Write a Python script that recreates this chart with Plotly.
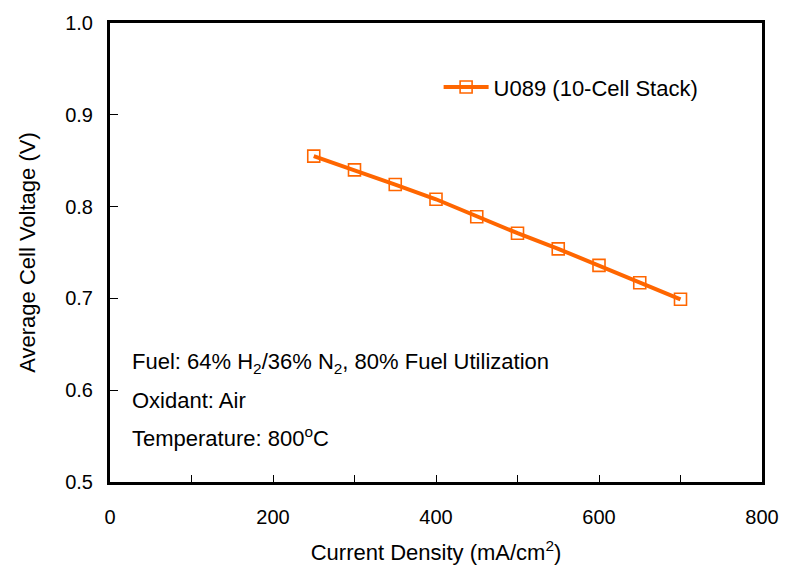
import plotly.graph_objects as go

current_density = [250, 300, 350, 400, 450, 500, 550, 600, 650, 700]
cell_voltage = [0.855, 0.840, 0.824, 0.808, 0.789, 0.771, 0.754, 0.736, 0.717, 0.699]
series_name = "U089 (10-Cell Stack)"
x_ticks = [0, 200, 400, 600, 800]
y_ticks = [0.5, 0.6, 0.7, 0.8, 0.9, 1.0]
notes = ["Fuel: 64% H<sub>2</sub>/36% N<sub>2</sub>, 80% Fuel Utilization",
         "Oxidant: Air",
         "Temperature: 800<sup>o</sup>C"]
note_y = [0.630, 0.589, 0.549]

ORANGE = "#FF6600"
FONT = "Liberation Sans, Arial, sans-serif"

fig = go.Figure()
fig.add_trace(go.Scatter(
    x=current_density, y=cell_voltage, name=series_name,
    mode="lines+markers",
    line=dict(color=ORANGE, width=4),
    marker=dict(symbol="square-open", size=12, color=ORANGE, line=dict(width=1.6, color=ORANGE)),
    showlegend=True,
))

for t, yy in zip(notes, note_y):
    fig.add_annotation(x=25, y=yy, xref="x", yref="y", text=t, showarrow=False,
                       xanchor="left", yanchor="middle",
                       font=dict(family=FONT, size=22, color="black"))

fig.update_layout(
    width=791, height=573,
    margin=dict(l=110, r=24, t=17, b=91),
    paper_bgcolor="white", plot_bgcolor="white",
    font=dict(family=FONT, size=20, color="black"),
    legend=dict(x=0.504, y=0.86, xanchor="left", yanchor="middle",
                bgcolor="rgba(0,0,0,0)", font=dict(size=22), itemwidth=45),
    xaxis=dict(range=[0, 800], tickvals=x_ticks, ticks="inside", ticklen=7, tickwidth=1,
               tickcolor="black", ticklabelstandoff=15,
               minor=dict(dtick=100, ticks="inside", ticklen=7, tickcolor="black", showgrid=False),
               showline=True, linewidth=3, linecolor="black", mirror=True,
               showgrid=False, zeroline=False,
               title=dict(text="Current Density (mA/cm<sup>2</sup>)", font=dict(size=22), standoff=18),
               tickfont=dict(size=20)),
    yaxis=dict(range=[0.5, 1.0], tickvals=y_ticks, tickformat=".1f", ticks="inside", ticklen=8,
               tickwidth=1, tickcolor="black", ticklabelstandoff=10,
               showline=True, linewidth=3, linecolor="black", mirror=True,
               showgrid=False, zeroline=False,
               title=dict(text="Average Cell Voltage (V)", font=dict(size=22), standoff=24),
               tickfont=dict(size=20)),
)

fig.write_html("out.html", config={"displayModeBar": False},
               post_script="document.body.style.margin='0';")
